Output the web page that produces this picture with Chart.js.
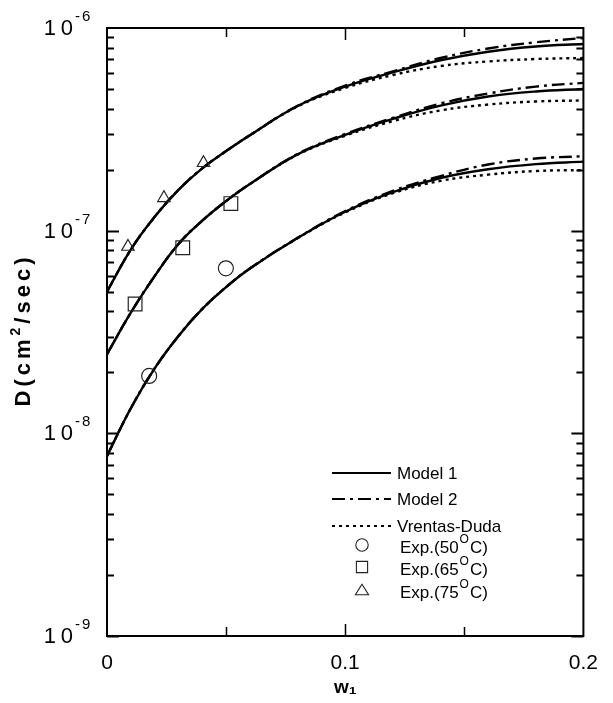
<!DOCTYPE html>
<html>
<head>
<meta charset="utf-8">
<script src="https://cdn.jsdelivr.net/npm/chart.js@4.4.0/dist/chart.umd.min.js"></script>
<style>
  html, body { margin: 0; padding: 0; background: #fff; }
  #chart { display: block; }
</style>
</head>
<body>
<canvas id="chart" width="613" height="703"></canvas>
<script>
// solvent weight fraction w1
const w1 = [0, 0.01, 0.02, 0.03, 0.04, 0.05, 0.06, 0.08, 0.1, 0.12, 0.14, 0.16, 0.18, 0.2];

// D (cm2/sec), 50 C
const model1_50 = [7.73e-9, 1.33e-8, 2.09e-8, 3.02e-8, 4.11e-8, 5.27e-8, 6.51e-8, 9.20e-8, 1.24e-7, 1.55e-7, 1.82e-7, 2.01e-7, 2.13e-7, 2.19e-7];
const model2_50 = [7.73e-9, 1.33e-8, 2.09e-8, 3.02e-8, 4.11e-8, 5.27e-8, 6.51e-8, 9.22e-8, 1.25e-7, 1.57e-7, 1.86e-7, 2.12e-7, 2.27e-7, 2.33e-7];
const vd_50     = [7.73e-9, 1.33e-8, 2.09e-8, 3.02e-8, 4.11e-8, 5.27e-8, 6.51e-8, 9.18e-8, 1.23e-7, 1.53e-7, 1.76e-7, 1.89e-7, 1.97e-7, 1.99e-7];

// 65 C
const model1_65 = [2.46e-8, 3.94e-8, 5.97e-8, 8.59e-8, 1.12e-7, 1.40e-7, 1.70e-7, 2.38e-7, 2.97e-7, 3.56e-7, 4.14e-7, 4.59e-7, 4.86e-7, 5.00e-7];
const model2_65 = [2.46e-8, 3.94e-8, 5.97e-8, 8.59e-8, 1.12e-7, 1.40e-7, 1.70e-7, 2.39e-7, 3.00e-7, 3.60e-7, 4.24e-7, 4.75e-7, 5.14e-7, 5.36e-7];
const vd_65     = [2.46e-8, 3.94e-8, 5.97e-8, 8.59e-8, 1.12e-7, 1.40e-7, 1.70e-7, 2.37e-7, 2.94e-7, 3.47e-7, 3.92e-7, 4.19e-7, 4.34e-7, 4.39e-7];

// 75 C
const model1_75 = [5.00e-8, 8.07e-8, 1.17e-7, 1.59e-7, 2.03e-7, 2.47e-7, 2.96e-7, 4.12e-7, 5.14e-7, 6.04e-7, 6.93e-7, 7.64e-7, 8.11e-7, 8.34e-7];
const model2_75 = [5.00e-8, 8.07e-8, 1.17e-7, 1.59e-7, 2.03e-7, 2.47e-7, 2.96e-7, 4.13e-7, 5.20e-7, 6.11e-7, 7.11e-7, 7.92e-7, 8.50e-7, 8.93e-7];
const vd_75     = [5.00e-8, 8.07e-8, 1.17e-7, 1.59e-7, 2.03e-7, 2.47e-7, 2.96e-7, 4.10e-7, 5.06e-7, 5.86e-7, 6.49e-7, 6.84e-7, 7.03e-7, 7.11e-7];

// experimental points
const exp50_w = [0.0177, 0.0499];
const exp50_D = [1.92e-8, 6.52e-8];
const exp65_w = [0.0118, 0.0318, 0.0520];
const exp65_D = [4.35e-8, 8.24e-8, 1.36e-7];
const exp75_w = [0.0088, 0.0239, 0.0405];
const exp75_D = [8.34e-8, 1.45e-7, 2.16e-7];

const yDecades = [-9, -8, -7, -6];
const xLabelled = [0, 0.1, 0.2];
const xMinorTicks = [0.05, 0.1, 0.15];

const FONT = '"Liberation Sans", Arial, "DejaVu Sans", sans-serif';
const DASH_DOT = [13, 5, 3, 5];
const DOTTED = [3, 4];

function curve(label, ys, dash) {
	return {
		type: 'scatter',
		label: label,
		data: w1.map((x, i) => ({ x: x, y: ys[i] })),
		showLine: true,
		borderColor: '#000',
		borderWidth: 2.4,
		borderDash: dash,
		pointRadius: 0,
		fill: false,
		tension: 0.4
	};
}

function points(label, xs, ys, style, r) {
	return {
		type: 'scatter',
		label: label,
		data: xs.map((x, i) => ({ x: x, y: ys[i] })),
		pointStyle: style,
		pointRadius: r,
		borderColor: '#222',
		borderWidth: 1.2,
		backgroundColor: 'rgba(0,0,0,0)'
	};
}

// legend rows drawn inside the plot
const legendRows = [
	{ kind: 'line', dash: [], text: 'Model 1' },
	{ kind: 'line', dash: DASH_DOT, text: 'Model 2' },
	{ kind: 'line', dash: DOTTED, text: 'Vrentas-Duda' },
	{ kind: 'circle', temp: '50' },
	{ kind: 'rect', temp: '65' },
	{ kind: 'triangle', temp: '75' }
];

function drawMarker(ctx, kind, cx, cy, s) {
	ctx.beginPath();
	if (kind === 'circle') {
		ctx.arc(cx, cy, s, 0, Math.PI * 2);
	} else if (kind === 'rect') {
		ctx.rect(cx - s, cy - s, 2 * s, 2 * s);
	} else {
		const h = s * 1.7;
		ctx.moveTo(cx, cy - h / 2 - 1);
		ctx.lineTo(cx + s + 1, cy + h / 2);
		ctx.lineTo(cx - s - 1, cy + h / 2);
		ctx.closePath();
	}
	ctx.stroke();
}

// draw text piece by piece, with optional raised pieces
function drawParts(ctx, parts, x, y) {
	parts.forEach(p => {
		ctx.font = p.font;
		ctx.fillText(p.t, x, y + (p.dy || 0));
		x += ctx.measureText(p.t).width + (p.gap || 0);
	});
	return x;
}

const framePlugin = {
	id: 'framePlugin',
	afterDraw(chart) {
		const { ctx, chartArea: a, scales: { x, y } } = chart;
		ctx.save();
		ctx.strokeStyle = '#000';
		ctx.fillStyle = '#000';

		// frame
		ctx.lineWidth = 2;
		ctx.setLineDash([]);
		ctx.strokeRect(a.left, a.top, a.right - a.left, a.bottom - a.top);

		// y ticks, inward on both sides
		ctx.lineWidth = 1.8;
		for (let e = -9; e < -6; e++) {
			for (let m = 1; m <= 9; m++) {
				const py = Math.round(y.getPixelForValue(m * Math.pow(10, e))) + 0.5;
				const len = m === 1 ? 12 : 7;
				ctx.beginPath();
				ctx.moveTo(a.left, py); ctx.lineTo(a.left + len, py);
				ctx.moveTo(a.right, py); ctx.lineTo(a.right - len, py);
				ctx.stroke();
			}
		}

		// x ticks, inward at top and bottom
		ctx.lineWidth = 1.5;
		xMinorTicks.forEach(v => {
			const px = Math.round(x.getPixelForValue(v)) + 0.5;
			const len = Math.abs(v - 0.1) < 1e-9 ? 12 : 9;
			ctx.beginPath();
			ctx.moveTo(px, a.bottom); ctx.lineTo(px, a.bottom - len);
			ctx.moveTo(px, a.top); ctx.lineTo(px, a.top + len);
			ctx.stroke();
		});

		// y labels 10^n
		ctx.textBaseline = 'middle';
		yDecades.forEach(e => {
			const py = y.getPixelForValue(Math.pow(10, e));
			ctx.font = '22px ' + FONT;
			ctx.textAlign = 'right';
			ctx.fillText('1', 56, py + 1);
			ctx.fillText('0', 73, py + 1);
			ctx.font = '15px ' + FONT;
			ctx.textAlign = 'left';
			ctx.fillText('-', 75, py - 11);
			ctx.fillText(String(-e), 82, py - 11);
		});

		// y axis title, rotated
		ctx.save();
		ctx.translate(24, (a.top + a.bottom) / 2 - 2);
		ctx.rotate(-Math.PI / 2);
		ctx.textAlign = 'left';
		ctx.letterSpacing = '4px';
		const bold = 'bold 22px ' + FONT;
		const titleParts = [
			{ t: 'D(cm', font: bold },
			{ t: '2', font: 'bold 14px ' + FONT, dy: -8, gap: 0 },
			{ t: '/sec)', font: bold }
		];
		let tw = 0;
		titleParts.forEach(p => { ctx.font = p.font; tw += ctx.measureText(p.t).width + (p.gap || 0); });
		drawParts(ctx, titleParts, -tw / 2, 0);
		ctx.restore();

		// legend
		const lx0 = 332, lx1 = 391, tx = 397, mx = 362;
		const rowY = [473, 499, 526, 547, 569, 592];
		ctx.font = '17px ' + FONT;
		ctx.textAlign = 'left';
		legendRows.forEach((row, i) => {
			const ry = rowY[i];
			if (row.kind === 'line') {
				ctx.lineWidth = 2.2;
				ctx.setLineDash(row.dash);
				ctx.beginPath();
				ctx.moveTo(lx0, ry); ctx.lineTo(lx1, ry);
				ctx.stroke();
				ctx.setLineDash([]);
				ctx.font = '17px ' + FONT;
				ctx.fillText(row.text, tx, ry + 1);
			} else {
				ctx.lineWidth = 1.1;
				ctx.strokeStyle = '#222';
				drawMarker(ctx, row.kind, mx, ry - 2, row.kind === 'circle' ? 6.2 : 5.6);
				ctx.strokeStyle = '#000';
				drawParts(ctx, [
					{ t: 'Exp.(' + row.temp, font: '17px ' + FONT, gap: 1 },
					{ t: 'O', font: '12px ' + FONT, dy: -8, gap: 1 },
					{ t: 'C)', font: '17px ' + FONT }
				], 400, ry + 1);
			}
		});
		ctx.restore();
	}
};

new Chart(document.getElementById('chart'), {
	type: 'scatter',
	data: {
		datasets: [
			points('Exp.(50°C)', exp50_w, exp50_D, 'circle', 7.5),
			points('Exp.(65°C)', exp65_w, exp65_D, 'rect', 9.7),
			points('Exp.(75°C)', exp75_w, exp75_D, 'triangle', 7.2),
			curve('Model 1 (50°C)', model1_50, []),
			curve('Model 2 (50°C)', model2_50, DASH_DOT),
			curve('Vrentas-Duda (50°C)', vd_50, DOTTED),
			curve('Model 1 (65°C)', model1_65, []),
			curve('Model 2 (65°C)', model2_65, DASH_DOT),
			curve('Vrentas-Duda (65°C)', vd_65, DOTTED),
			curve('Model 1 (75°C)', model1_75, []),
			curve('Model 2 (75°C)', model2_75, DASH_DOT),
			curve('Vrentas-Duda (75°C)', vd_75, DOTTED)
		]
	},
	options: {
		responsive: false,
		animation: false,
		events: [],
		layout: { padding: { left: 0, top: 28, right: 20, bottom: 0 } },
		plugins: {
			legend: { display: false },
			tooltip: { enabled: false }
		},
		scales: {
			x: {
				type: 'linear',
				min: 0,
				max: 0.2,
				grid: { display: false, drawTicks: false },
				border: { display: false },
				ticks: {
					stepSize: 0.05,
					autoSkip: false,
					maxRotation: 0,
					padding: 15,
					color: '#000',
					font: { family: FONT, size: 21 },
					callback: function(value) {
						const v = Math.round(value * 100) / 100;
						return xLabelled.indexOf(v) >= 0 ? String(v) : '';
					}
				},
				title: {
					display: true,
					text: 'w₁',
					color: '#000',
					font: { family: FONT, size: 19, weight: 'bold' },
					padding: { top: 0, bottom: 4 }
				},
				afterFit: function(scale) { scale.height = 67; }
			},
			y: {
				type: 'logarithmic',
				min: 1e-9,
				max: 1e-6,
				grid: { display: false, drawTicks: false },
				border: { display: false },
				ticks: { display: false },
				title: { display: false },
				afterFit: function(scale) { scale.width = 107; }
			}
		}
	},
	plugins: [framePlugin]
});
</script>
</body>
</html>
